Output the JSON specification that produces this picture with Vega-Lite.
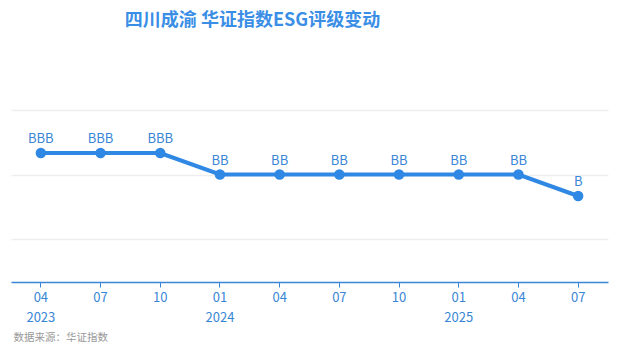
{
  "$schema": "https://vega.github.io/schema/vega-lite/v6.json",
  "width": 597,
  "height": 172,
  "autosize": {"type": "none"},
  "padding": {"left": 11, "top": 110, "right": 10, "bottom": 73},
  "background": "#ffffff",
  "config": {"font": "Noto Sans CJK SC", "view": {"stroke": null}},
  "title": {
    "text": "四川成渝 华证指数ESG评级变动",
    "anchor": "middle",
    "fontSize": 18,
    "fontWeight": "bold",
    "color": "#3a8ee6",
    "font": "Noto Sans CJK SC",
    "offset": 80,
    "dx": -57
  },
  "data": {
    "values": [
      {"period": "2023-04", "rating": "BBB", "score": 7},
      {"period": "2023-07", "rating": "BBB", "score": 7},
      {"period": "2023-10", "rating": "BBB", "score": 7},
      {"period": "2024-01", "rating": "BB", "score": 6},
      {"period": "2024-04", "rating": "BB", "score": 6},
      {"period": "2024-07", "rating": "BB", "score": 6},
      {"period": "2024-10", "rating": "BB", "score": 6},
      {"period": "2025-01", "rating": "BB", "score": 6},
      {"period": "2025-04", "rating": "BB", "score": 6},
      {"period": "2025-07", "rating": "B", "score": 5}
    ]
  },
  "encoding": {
    "x": {
      "field": "period",
      "type": "ordinal",
      "scale": {"type": "band", "paddingInner": 0, "paddingOuter": 0},
      "axis": {
        "labelAngle": 0,
        "labelExpr": "(substring(datum.value,5)=='01' || datum.value=='2023-04') ? [substring(datum.value,5), substring(datum.value,0,4)] : substring(datum.value,5)",
        "labelColor": "#3a86d6",
        "labelFontSize": 13,
        "labelPadding": 4,
        "labelLineHeight": 20,
        "domainColor": "#3a86d6",
        "domainWidth": 1.5,
        "tickColor": "#3a86d6",
        "tickSize": 5,
        "grid": false,
        "title": "数据来源：华证指数",
        "titleX": 2,
        "titleY": 50,
        "titleAnchor": "start",
        "titleAlign": "left",
        "titleFontSize": 10.5,
        "titleFontWeight": "normal",
        "titleColor": "#999999"
      }
    },
    "y": {
      "field": "score",
      "type": "quantitative",
      "scale": {"domain": [1, 9], "nice": false, "zero": false},
      "axis": {
        "values": [3, 6, 9],
        "labels": false,
        "ticks": false,
        "domain": false,
        "title": null,
        "grid": true,
        "gridColor": "#eeeeee",
        "gridWidth": 1.5
      }
    }
  },
  "layer": [
    {"mark": {"type": "line", "color": "#2f88e3", "strokeWidth": 4}},
    {"mark": {"type": "point", "filled": true, "opacity": 1, "color": "#2f88e3", "size": 110}},
    {
      "mark": {"type": "text", "dy": -14, "fontSize": 13, "color": "#3a86d6", "baseline": "middle"},
      "encoding": {"text": {"field": "rating"}}
    }
  ]
}
